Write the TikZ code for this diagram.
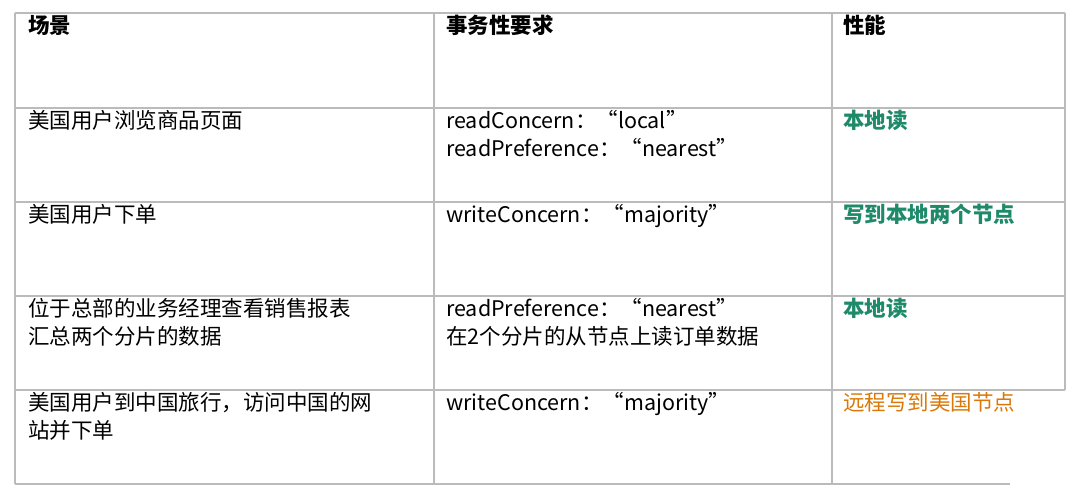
\documentclass[tikz,border=0pt]{standalone}
\usepackage{fontspec}
\setmainfont{Noto Sans CJK SC}
\definecolor{grn}{HTML}{1E8A6A}
\definecolor{org}{HTML}{D9790A}
\definecolor{ln}{HTML}{BBBBBB}
\begin{document}
\begin{tikzpicture}[x=1pt,y=-1pt,
  cell/.style={anchor=north west,inner sep=0pt,align=left,font=\fontsize{21.5}{28}\selectfont},
  hd/.style={cell,font=\fontsize{21.5}{28}\selectfont\bfseries},
  gr/.style={cell,text=grn,font=\fontsize{21.5}{28}\selectfont\bfseries},
  grid/.style={draw=ln,line width=1.3pt}]
\useasboundingbox (0,0) rectangle (1073,494);
\draw[grid] (15,13) -- (1065,13);
\foreach \y in {108,202,296,390} \draw[grid] (15,\y) -- (1065,\y);
\draw[grid] (15,484) -- (1010,484);
\draw[grid] (15,13) -- (15,484);
\draw[grid] (434,13) -- (434,484);
\draw[grid] (832,13) -- (832,484);
\draw[grid] (1065,13) -- (1065,390);
\node[hd] (h1) at (28,15) {场景};
\node[hd] (h2) at (446,15) {事务性要求};
\node[hd] (h3) at (843,15) {性能};
\node[cell] (a1) at (28,110) {美国用户浏览商品页面};
\node[cell] (b1) at (446,110) {readConcern：“local”\\readPreference：“nearest”};
\node[gr] (c1) at (843,110) {本地读};
\node[cell] (a2) at (28,204) {美国用户下单};
\node[cell] (b2) at (446,204) {writeConcern：“majority”};
\node[gr] (c2) at (843,204) {写到本地两个节点};
\node[cell] (a3) at (28,298) {位于总部的业务经理查看销售报表\\汇总两个分片的数据};
\node[cell] (b3) at (446,298) {readPreference：“nearest”\\在2个分片的从节点上读订单数据};
\node[gr] (c3) at (843,298) {本地读};
\node[cell] (a4) at (28,392) {美国用户到中国旅行，访问中国的网\\站并下单};
\node[cell] (b4) at (446,392) {writeConcern：“majority”};
\node[cell,text=org] (c4) at (843,392) {远程写到美国节点};
\end{tikzpicture}
\end{document}
